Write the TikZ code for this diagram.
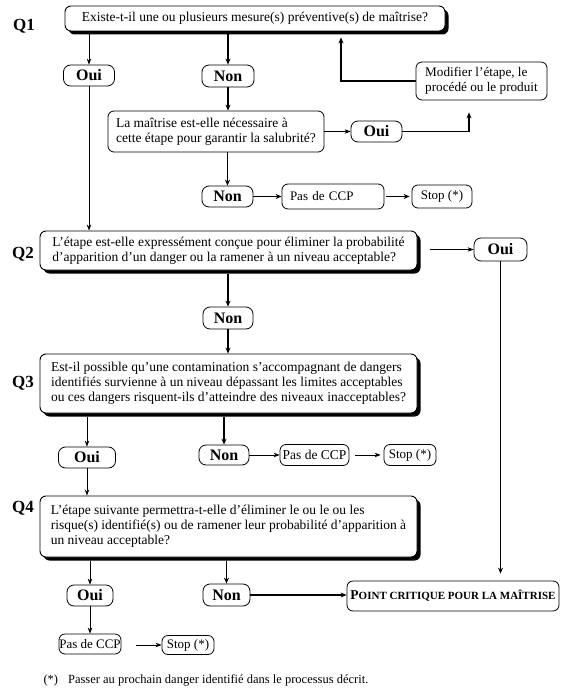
\documentclass[tikz,border=0pt]{standalone}
\usepackage{fontspec}
\setmainfont{Liberation Serif}
\usetikzlibrary{arrows.meta,shadows}
\begin{document}
\begin{tikzpicture}[x=1pt,y=-1pt,
  every node/.style={font=\fontsize{13.5}{15}\selectfont},
  qbox/.style={draw, line width=0.9pt, rounded corners=6pt, fill=white,
     drop shadow={shadow xshift=3.5pt, shadow yshift=-3.5pt, opacity=1, fill=black},
     align=left, inner sep=0pt},
  rbox/.style={draw, line width=0.8pt, rounded corners=6pt, fill=white, align=left, inner sep=0pt},
  pill/.style={draw, line width=0.8pt, rounded corners=7pt, fill=white, inner sep=0pt,
     font=\bfseries\fontsize{16}{16}\selectfont},
  qlab/.style={font=\bfseries\fontsize{17}{17}\selectfont},
  thinarr/.style={line width=0.8pt, -{Stealth[length=6pt,width=4.5pt]}},
  thkarr/.style={line width=1.6pt, -{Stealth[length=6pt,width=5pt]}},
]
\useasboundingbox[fill=white] (0,0) rectangle (568,695);

% labels
\node[qlab] (q1lab) at (24,26) {Q1};
\node[qlab] (q2lab) at (23,254) {Q2};
\node[qlab] (q3lab) at (23,383) {Q3};
\node[qlab] (q4lab) at (23,508) {Q4};

% Q1 block
\node[qbox, minimum width=380pt, minimum height=25pt] (q1) at (255,18.5)
  {Existe-t-il une ou plusieurs mesure(s) préventive(s) de maîtrise?};
\node[pill, minimum width=51pt, minimum height=21pt] (oui1) at (89,75.5) {Oui};
\node[pill, minimum width=52pt, minimum height=22pt] (non1) at (228,76) {Non};
\node[rbox, minimum width=216pt, minimum height=41pt] (maitr) at (216,131.5)
  {La maîtrise est-elle nécessaire à\\cette étape pour garantir la salubrité?};
\node[pill, minimum width=51pt, minimum height=21pt] (oui2) at (376.5,131.5) {Oui};
\node[rbox, minimum width=131pt, minimum height=38pt, font=\fontsize{13.2}{14.5}\selectfont] (modif) at (481.5,81)
  {Modifier l’étape, le\\procédé ou le produit};
\node[pill, minimum width=51pt, minimum height=21pt] (non2) at (227.5,196.5) {Non};
\node[rbox, text width=86pt, inner xsep=8pt, minimum height=25pt, font=\fontsize{13}{14}\selectfont] (pas1) at (333,196.5) {Pas de CCP};
\node[rbox, minimum width=60pt, minimum height=23pt, font=\fontsize{13}{14}\selectfont] (stop1) at (442,196.5) {Stop (*)};

% Q2 block
\node[qbox, minimum width=377pt, minimum height=39pt] (q2) at (228.5,250.5)
  {L’étape est-elle expressément conçue pour éliminer la probabilité\\d’apparition d’un danger ou la ramener à un niveau acceptable?};
\node[pill, minimum width=53pt, minimum height=23pt] (oui3) at (500.5,249.5) {Oui};
\node[pill, minimum width=50pt, minimum height=22pt] (non3) at (228,318) {Non};

% Q3 block
\node[qbox, minimum width=377pt, minimum height=59pt] (q3) at (228.5,383.5)
  {Est-il possible qu’une contamination s’accompagnant de dangers\\identifiés survienne à un niveau dépassant les limites acceptables\\ou ces dangers risquent-ils d’atteindre des niveaux inacceptables?};
\node[pill, minimum width=57pt, minimum height=21pt] (oui4) at (87,457.5) {Oui};
\node[pill, minimum width=50pt, minimum height=20pt] (non4) at (224,455) {Non};
\node[rbox, minimum width=69pt, minimum height=21pt, font=\fontsize{13.5}{14}\selectfont] (pas2) at (314.5,455) {Pas de CCP};
\node[rbox, minimum width=52pt, minimum height=21pt, font=\fontsize{13}{14}\selectfont] (stop2) at (410,455) {Stop (*)};

% Q4 block
\node[qbox, minimum width=377pt, minimum height=61pt] (q4) at (228.5,526.5)
  {L’étape suivante permettra-t-elle d’éliminer le ou le ou les\\risque(s) identifié(s) ou de ramener leur probabilité d’apparition à\\un niveau acceptable?};
\node[pill, minimum width=46pt, minimum height=21pt] (oui5) at (90,595.5) {Oui};
\node[pill, minimum width=47pt, minimum height=22pt] (non5) at (226.5,595) {Non};
\node[rbox, minimum width=212pt, minimum height=30pt] (pcm) at (453,596)
  {\bfseries{\fontsize{13.5}{15}\selectfont P}{\fontsize{11}{15}\selectfont OINT CRITIQUE POUR LA MAÎTRISE}};
\node[rbox, minimum width=62pt, minimum height=20pt, font=\fontsize{13}{14}\selectfont] (pas3) at (90,644) {Pas de CCP};
\node[rbox, minimum width=52pt, minimum height=19pt, font=\fontsize{13}{14}\selectfont] (stop3) at (188,645) {Stop (*)};

\node[anchor=west, font=\fontsize{12.5}{14}\selectfont] (foot) at (40,680)
  {(*)\hspace{10pt}Passer au prochain danger identifié dans le processus décrit.};

% connectors Q1
\draw[thinarr, shorten <=3pt] (q1.south -| oui1.north) -- (oui1.north);
\draw[thkarr, shorten <=3pt] (q1.south -| non1.north) -- (non1.north);
\draw[thkarr] (non1.south) -- (non1.south |- maitr.north);
\draw[thkarr] (maitr.south -| non2.north) -- (non2.north);
\draw[thinarr] (maitr.east |- oui2.west) -- (oui2.west);
\draw[thkarr, shorten >=12pt] (oui2.east) -| ([xshift=-12.5pt]modif.south);
\draw[thkarr, shorten >=6pt] (modif.west) -| ([xshift=86pt]q1.south);
\draw[thkarr] (non2.east) -- (non2.east -| pas1.west);
\draw[thkarr, shorten <=2pt, shorten >=2pt] (pas1.east) -- (pas1.east -| stop1.west);
\draw[thinarr] (oui1.south) -- (oui1.south |- q2.north);

% connectors Q2
\draw[thinarr, shorten <=13pt] (q2.east |- oui3.west) -- (oui3.west);
\draw[thkarr, shorten >=7pt] (oui3.south) -- (oui3.south |- pcm.north);
\draw[thkarr, shorten <=4pt] (q2.south -| non3.north) -- (non3.north);
\draw[thkarr] (non3.south) -- (non3.south |- q3.north);

% connectors Q3
\draw[thinarr, shorten <=4pt] (q3.south -| oui4.north) -- (oui4.north);
\draw[thkarr, shorten <=4pt] (q3.south -| non4.north) -- (non4.north);
\draw[thinarr] (non4.east) -- (non4.east -| pas2.west);
\draw[thinarr, shorten <=6pt, shorten >=3pt] (pas2.east) -- (pas2.east -| stop2.west);
\draw[thinarr] (oui4.south) -- (oui4.south |- q4.north);

% connectors Q4
\draw[thinarr, shorten <=4pt] (q4.south -| oui5.north) -- (oui5.north);
\draw[thkarr, shorten <=4pt] (q4.south -| non5.north) -- (non5.north);
\draw[thkarr] (non5.east) -- (non5.east -| pcm.west);
\draw[thinarr] (oui5.south) -- (oui5.south |- pas3.north);
\draw[thinarr, shorten <=15pt] (pas3.east |- stop3.west) -- (stop3.west);
\end{tikzpicture}
\end{document}
